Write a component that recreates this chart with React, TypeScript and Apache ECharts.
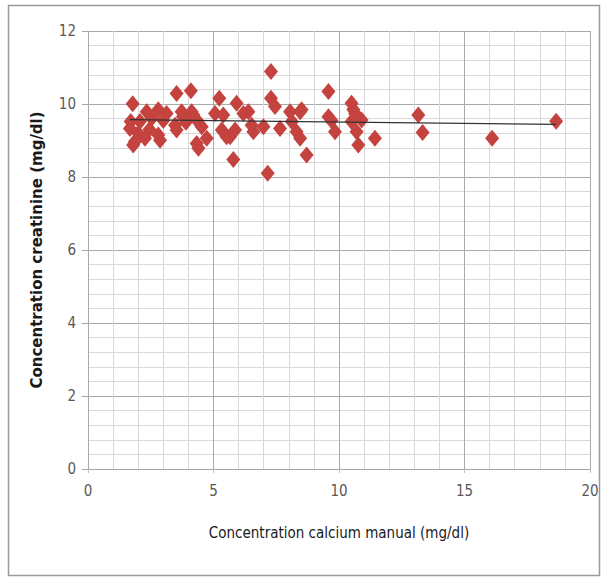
import React, { useEffect, useRef } from "react";
import * as echarts from "echarts";

const calciumX = [
  1.78, 1.67, 1.7, 1.8, 1.87, 2.07, 2.0, 2.27, 2.34, 2.54, 2.45, 2.8, 2.87, 2.8, 3.13, 3.0, 3.47, 3.53, 3.53, 3.73,
  3.78, 3.9, 4.1, 4.13, 4.2, 4.33, 4.4, 4.33, 4.53, 4.73, 5.06, 5.23, 5.39, 5.33, 5.52, 5.66, 5.86, 5.79, 5.92, 6.19,
  6.39, 6.52, 6.59, 6.99, 7.16, 7.29, 7.29, 7.45, 7.65, 8.05, 8.12, 8.31, 8.45, 8.51, 8.45, 8.71, 9.58, 9.58, 9.7, 9.84,
  10.5, 10.57, 10.64, 10.5, 10.9, 10.7, 10.77, 11.43, 13.16, 13.33, 16.1, 18.65,
];
const creatinineY = [
  10.01, 9.33, 9.52, 8.88, 8.97, 9.52, 9.2, 9.06, 9.79, 9.61, 9.3, 9.84, 9.01, 9.15, 9.74, 9.55, 9.42, 10.29, 9.29, 9.79,
  9.65, 9.5, 10.36, 9.79, 9.7, 9.56, 8.79, 8.92, 9.38, 9.06, 9.74, 10.16, 9.7, 9.29, 9.1, 9.1, 9.29, 8.48, 10.02, 9.74,
  9.79, 9.42, 9.24, 9.38, 8.1, 10.89, 10.16, 9.93, 9.33, 9.79, 9.52, 9.24, 9.79, 9.84, 9.06, 8.6, 10.34, 9.65, 9.55, 9.24,
  10.02, 9.85, 9.74, 9.52, 9.56, 9.24, 8.88, 9.06, 9.7, 9.22, 9.06, 9.53,
];
const trendX = [1.67, 18.65];
const trendY = [9.57, 9.44];

export default function App() {
  const ref = useRef<HTMLDivElement>(null);
  useEffect(() => {
    if (!ref.current) return;
    const chart = echarts.init(ref.current, undefined, { renderer: "svg" });
    const labelFont = "'Liberation Sans Narrow', 'DejaVu Sans Condensed', sans-serif";
    chart.setOption({
      animation: false,
      backgroundColor: "#ffffff",
      graphic: [
        {
          type: "rect",
          shape: { x: 8.5, y: 5.5, width: 591, height: 570 },
          style: { fill: "none", stroke: "#9a9a9a", lineWidth: 1.5 },
          silent: true,
        },
      ],
      grid: { left: 88, right: 13, top: 31, bottom: 108 },
      xAxis: {
        type: "value",
        min: 0,
        max: 20,
        interval: 5,
        name: "Concentration calcium manual (mg/dl)",
        nameLocation: "middle",
        nameGap: 56,
        nameTextStyle: { color: "#1a1a1a", fontSize: 15, fontFamily: labelFont },
        axisLine: { show: true, lineStyle: { color: "#a6a6a6", width: 1 } },
        axisTick: { show: true, length: 4, lineStyle: { color: "#bfbfbf" } },
        axisLabel: { color: "#595959", fontSize: 15, fontFamily: labelFont, margin: 14 },
        splitLine: { show: true, lineStyle: { color: "#a9a9a9", width: 1 } },
        minorTick: { show: false, splitNumber: 5 },
        minorSplitLine: { show: true, lineStyle: { color: "#d9d9d9", width: 1 } },
      },
      yAxis: {
        type: "value",
        min: 0,
        max: 12,
        interval: 2,
        name: "Concentration creatinine (mg/dl)",
        nameLocation: "middle",
        nameGap: 44,
        nameTextStyle: { color: "#1a1a1a", fontSize: 15, fontWeight: "bold", fontFamily: "'DejaVu Sans', sans-serif" },
        axisLine: { show: false },
        axisTick: { show: true, length: 6, lineStyle: { color: "#a6a6a6" } },
        axisLabel: { color: "#595959", fontSize: 15, fontFamily: labelFont, margin: 12 },
        splitLine: { show: true, lineStyle: { color: "#a9a9a9", width: 1 } },
        minorTick: { show: false, splitNumber: 5 },
        minorSplitLine: { show: true, lineStyle: { color: "#d9d9d9", width: 1 } },
      },
      series: [
        {
          type: "scatter",
          symbol: "diamond",
          symbolSize: [14, 17],
          itemStyle: { color: "#C4433F", opacity: 1 },
          data: calciumX.map((x, i) => [x, creatinineY[i]]),
          z: 3,
        },
        {
          type: "line",
          showSymbol: false,
          symbol: "none",
          lineStyle: { color: "#333333", width: 1.2 },
          data: trendX.map((x, i) => [x, trendY[i]]),
          z: 4,
        },
      ],
    });
    return () => chart.dispose();
  }, []);
  return (
    <div
      ref={ref}
      style={{ position: "fixed", left: 0, top: 0, width: 603, height: 577 }}
    />
  );
}
